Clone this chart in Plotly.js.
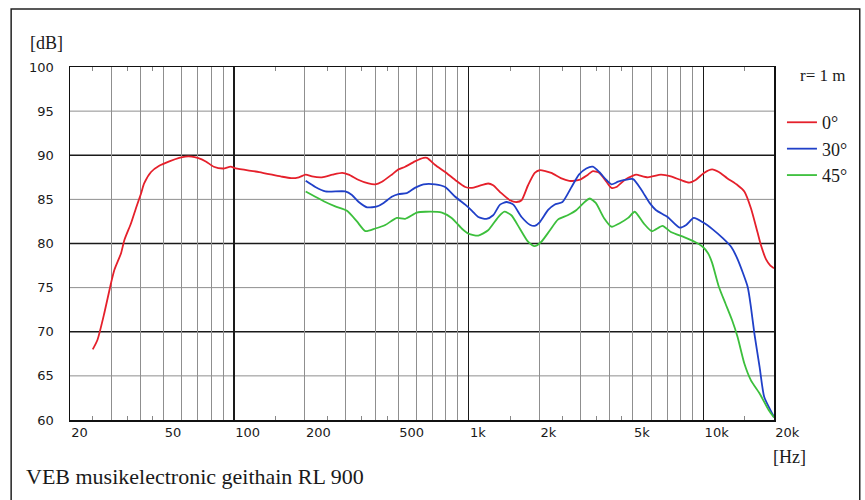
<!DOCTYPE html>
<html>
<head>
<meta charset="utf-8">
<script src="https://cdn.plot.ly/plotly-3.0.1.min.js"></script>
<style>html,body{margin:0;padding:0;background:#fff;}#chart{width:865px;height:500px;}</style>
</head>
<body>
<div id="chart"></div>
<script>
// ---- data ----
const labelVals = [20, 50, 100, 200, 500, 1000, 2000, 5000, 10000, 20000];
const labelText = ['20', '50', '100', '200', '500', '1k', '2k', '5k', '10k', '20k'];
const minorGrid = [30, 40, 50, 60, 70, 80, 90, 200, 300, 400, 500, 600, 700, 800, 900,
                   2000, 3000, 4000, 5000, 6000, 7000, 8000, 9000];
const decadeGrid = [100, 1000, 10000];
const smallTicks = [25, 35, 45, 150, 250, 350, 450, 1500, 2500, 3500, 4500, 15000];
const yTicks = [60, 65, 70, 75, 80, 85, 90, 95, 100];
const yMajor = [70, 80, 90];
const yMinor = [65, 75, 85, 95];

const freq0 = [25, 26.2, 28, 29.9, 30.9, 33, 34.1, 36.4, 38.2, 40.2, 41.4, 44.3, 48, 53, 58.4, 62, 66, 70, 75.8, 82, 90, 96.8, 101.7, 128, 158, 175, 189, 202, 215, 237, 263, 289, 308, 340, 374, 400, 427, 470, 502, 536, 590, 642, 664, 720, 794, 876, 967, 1033, 1100, 1210, 1271, 1378, 1500, 1600, 1680, 1790, 1912, 2006, 2248, 2468, 2680, 2954, 3222, 3383, 3608, 3864, 4059, 4260, 4620, 5020, 5170, 5800, 6600, 7270, 8000, 8700, 9270, 10060, 10900, 11640, 12630, 14000, 14950, 15950, 17000, 17600, 18500, 19300, 20000];
const db0 = [68.0, 69.1, 72.1, 75.5, 77.0, 78.9, 80.4, 82.3, 84.0, 85.7, 86.8, 88.1, 88.8, 89.3, 89.7, 89.85, 89.85, 89.7, 89.3, 88.7, 88.5, 88.7, 88.5, 88.1, 87.6, 87.4, 87.5, 87.8, 87.6, 87.5, 87.8, 88.0, 87.8, 87.2, 86.8, 86.7, 87.0, 87.8, 88.4, 88.7, 89.3, 89.7, 89.7, 88.9, 88.1, 87.2, 86.4, 86.3, 86.5, 86.8, 86.6, 85.7, 84.9, 84.7, 84.9, 86.6, 88.0, 88.3, 88.0, 87.4, 87.1, 87.2, 87.8, 88.2, 88.0, 87.0, 86.3, 86.4, 87.2, 87.7, 87.8, 87.5, 87.8, 87.6, 87.2, 86.9, 87.2, 88.0, 88.4, 88.1, 87.4, 86.6, 85.9, 84.0, 81.3, 79.8, 78.2, 77.5, 77.2];

const freq30 = [202, 222, 245, 298, 318, 340, 369, 407, 434, 470, 502, 545, 590, 642, 720, 794, 876, 967, 1033, 1099, 1190, 1271, 1360, 1450, 1550, 1680, 1830, 1912, 2006, 2180, 2320, 2510, 2730, 2950, 3170, 3380, 3600, 3860, 4060, 4330, 4620, 5020, 5440, 5900, 6270, 7040, 7920, 8450, 9100, 9960, 10960, 12100, 13150, 14000, 15440, 15950, 16500, 17370, 18170, 19770, 20000];
const db30 = [87.1, 86.4, 85.9, 85.9, 85.5, 84.7, 84.1, 84.2, 84.6, 85.3, 85.6, 85.7, 86.3, 86.7, 86.7, 86.4, 85.3, 84.4, 83.7, 83.0, 82.8, 83.2, 84.4, 84.7, 84.4, 83.0, 82.1, 82.0, 82.4, 83.8, 84.4, 84.7, 86.3, 87.8, 88.5, 88.7, 88.1, 87.2, 86.7, 87.0, 87.2, 87.3, 86.1, 84.6, 83.8, 83.0, 81.8, 82.1, 82.9, 82.4, 81.6, 80.6, 79.6, 78.2, 75.1, 72.8, 69.8, 66.0, 62.6, 60.6, 60.3];

const freq45 = [202, 222, 245, 270, 303, 334, 363, 400, 441, 494, 536, 601, 654, 769, 846, 934, 1000, 1099, 1210, 1337, 1420, 1520, 1650, 1790, 1910, 2040, 2220, 2400, 2640, 2880, 3120, 3280, 3480, 3770, 4060, 4400, 4780, 5100, 5560, 6030, 6700, 7270, 8320, 9180, 9960, 10470, 10900, 11640, 12420, 13260, 13990, 14950, 15950, 17370, 19000, 20000];
const db45 = [85.9, 85.3, 84.7, 84.2, 83.7, 82.5, 81.4, 81.7, 82.1, 82.9, 82.8, 83.5, 83.6, 83.5, 82.9, 81.7, 81.1, 80.9, 81.5, 83.0, 83.6, 83.2, 81.7, 80.2, 79.7, 80.2, 81.5, 82.7, 83.2, 83.8, 84.7, 85.1, 84.6, 82.9, 81.9, 82.3, 82.9, 83.6, 82.3, 81.4, 82.0, 81.3, 80.7, 80.2, 79.6, 78.9, 77.8, 75.1, 73.2, 71.3, 69.4, 66.4, 64.5, 63.0, 61.1, 60.3];

const seriesNames = ['0°', '30°', '45°'];
const seriesColors = ['#e5202b', '#2040c8', '#3cbf3c'];

// ---- chart ----
const serif = 'Liberation Serif, DejaVu Serif, serif';
const sans = 'DejaVu Sans, Verdana, sans-serif';
const xr = [Math.log10(20), Math.log10(20000)];

function trace(x, y, i) {
  return {
    x: x, y: y, name: seriesNames[i], type: 'scatter', mode: 'lines',
    line: {color: seriesColors[i], width: 1.8, shape: 'spline', smoothing: 0.6},
    hoverinfo: 'skip'
  };
}
// empty helper traces so the grid-only overlay x axes get their subplots
function holder(xa, ya) {
  return {x: [], y: [], xaxis: xa, yaxis: ya, type: 'scatter', mode: 'lines',
          showlegend: false, hoverinfo: 'skip'};
}
const data = [
  holder('x2', 'y'), holder('x3', 'y'),
  trace(freq0, db0, 0), trace(freq30, db30, 1), trace(freq45, db45, 2)
];

const gridAxisX = (vals, col, w) => ({
  type: 'log', range: xr, autorange: false, overlaying: 'x', anchor: 'y', side: 'bottom',
  tickmode: 'array', tickvals: vals,
  showticklabels: false, ticks: '', showgrid: true, gridcolor: col, gridwidth: w,
  zeroline: false, showline: false
});

// horizontal grid lines, placed on the y scale
const hLine = (v, col, w) => ({
  type: 'line', xref: 'x domain', x0: 0, x1: 1, yref: 'y', y0: v, y1: v,
  line: {color: col, width: w}, layer: 'below'
});
const gridShapes = yMinor.map(v => hLine(v, '#8f8f8f', 1))
  .concat(yMajor.map(v => hLine(v, '#1a1a1a', 1.3)));

const layout = {
  width: 865, height: 500,
  margin: {l: 70, r: 89, t: 67, b: 80},
  paper_bgcolor: '#ffffff', plot_bgcolor: '#ffffff',
  showlegend: true,
  hovermode: false,
  xaxis: {
    type: 'log', range: xr, autorange: false, tickmode: 'array', tickvals: labelVals, ticktext: labelText,
    ticklabelposition: 'outside right', ticks: 'inside', ticklen: 4, tickcolor: 'rgba(0,0,0,0)',
    showgrid: false, zeroline: false,
    showline: true, linecolor: '#111', linewidth: 1.5, mirror: 'ticks',
    tickfont: {family: sans, size: 13, color: '#1a1a1a'},
    minor: {tickmode: 'array', tickvals: smallTicks, ticks: 'inside', ticklen: 4,
            tickcolor: '#888', tickwidth: 1, showgrid: false}
  },
  xaxis2: gridAxisX(minorGrid, '#8f8f8f', 1),
  xaxis3: gridAxisX(decadeGrid, '#1a1a1a', 1.3),
  yaxis: {
    range: [60, 100], autorange: false, tickmode: 'array', tickvals: yTicks, ticks: '', showgrid: false,
    zeroline: false, showline: true, linecolor: '#111', linewidth: 1.5, mirror: true,
    ticklabelstandoff: 12,
    tickfont: {family: sans, size: 13, color: '#1a1a1a'}
  },
  legend: {
    x: 1.0113, xanchor: 'left', y: 0.895, yanchor: 'top',
    font: {family: serif, size: 18, color: '#1a1a1a'},
    bgcolor: 'rgba(0,0,0,0)', borderwidth: 0, tracegroupgap: 0
  },
  shapes: [{
    type: 'rect', xref: 'paper', yref: 'paper', x0: -0.0836, x1: 1.1218, y0: -0.3, y1: 1.164,
    line: {color: '#222', width: 1.5}, fillcolor: 'rgba(0,0,0,0)', layer: 'below'
  }].concat(gridShapes),
  annotations: [
    {text: '[dB]', xref: 'paper', yref: 'paper', x: -0.0595, y: 1.068, xanchor: 'left', yanchor: 'middle',
     showarrow: false, font: {family: serif, size: 18, color: '#1a1a1a'}},
    {text: 'r= 1 m', xref: 'paper', yref: 'paper', x: 1.034, y: 0.977, xanchor: 'left', yanchor: 'middle',
     showarrow: false, font: {family: serif, size: 17, color: '#1a1a1a'}},
    {text: '[Hz]', xref: 'paper', yref: 'paper', x: 0.9958, y: -0.105, xanchor: 'left', yanchor: 'middle',
     showarrow: false, font: {family: serif, size: 18, color: '#1a1a1a'}},
    {text: 'VEB musikelectronic geithain RL 900', xref: 'paper', yref: 'paper', x: -0.065, y: -0.161,
     xanchor: 'left', yanchor: 'middle', showarrow: false, font: {family: serif, size: 22, color: '#1a1a1a'}}
  ]
};

Plotly.newPlot('chart', data, layout, {displayModeBar: false, staticPlot: true});
</script>
</body>
</html>
